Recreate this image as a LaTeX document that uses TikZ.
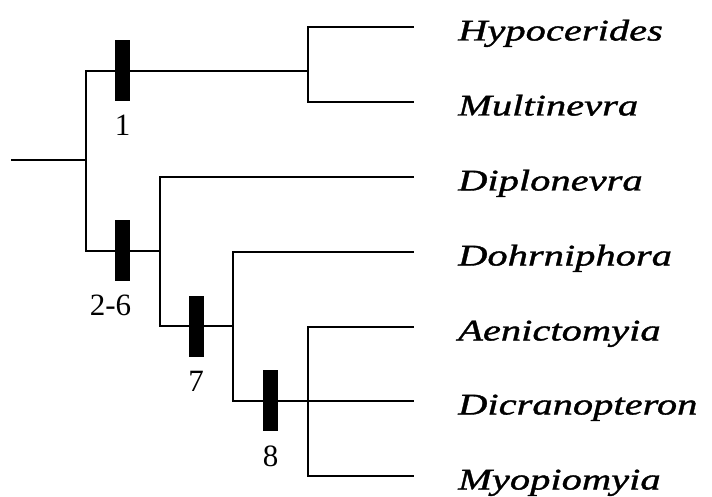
\documentclass[tikz,border=0pt]{standalone}
\usepackage{fontspec}
\setmainfont{Liberation Serif}
\newfontfamily\taxonfont[FakeStretch=1.35, FakeBold=1.2]{Liberation Serif}
\usetikzlibrary{positioning}

\tikzset{
  branch/.style={line width=1.1pt, line cap=rect},
  synbar/.style={fill=black, inner sep=0pt, minimum width=15pt, minimum height=61pt},
  charno/.style={font=\fontsize{31}{36}\selectfont, inner sep=3pt},
  taxon/.style={font=\taxonfont\itshape\fontsize{30}{36}\selectfont, anchor=west,
    text height=27pt, text depth=0pt, inner sep=0pt}
}

\begin{document}
\begin{tikzpicture}[x=1pt, y=-1pt]
  \useasboundingbox (0,0) rectangle (712,497);

  % internal nodes of the cladogram
  \coordinate (root) at (12,160);
  \coordinate (n0) at (86,160);
  \coordinate (n1) at (308,71);
  \coordinate (n2) at (160,251);
  \coordinate (n3) at (233,326);
  \coordinate (n4) at (308,401);

  % tips
  \coordinate (e1) at (413,27);
  \coordinate (e2) at (413,102);
  \coordinate (e3) at (413,177);
  \coordinate (e4) at (413,252);
  \coordinate (e5) at (413,327);
  \coordinate (e6) at (413,401);
  \coordinate (e7) at (413,476);

  % taxon names
  \node[taxon, right=45pt of e1] (hyp) {Hypocerides};
  \node[taxon, right=45pt of e2] (mul) {Multinevra};
  \node[taxon, right=45pt of e3] (dip) {Diplonevra};
  \node[taxon, right=45pt of e4] (doh) {Dohrniphora};
  \node[taxon, right=45pt of e5] (aen) {Aenictomyia};
  \node[taxon, right=45pt of e6] (dic) {Dicranopteron};
  \node[taxon, right=45pt of e7] (myo) {Myopiomyia};

  % branches
  \draw[branch] (root) -- (n0);
  \draw[branch] (n0) |- (n1);
  \draw[branch] (n0) |- (n2);
  \draw[branch] (n1) |- (e1);
  \draw[branch] (n1) |- (e2);
  \draw[branch] (n2) |- (e3);
  \draw[branch] (n2) |- (n3);
  \draw[branch] (n3) |- (e4);
  \draw[branch] (n3) |- (n4);
  \draw[branch] (n4) |- (e5);
  \draw[branch] (n4) -- (e6);
  \draw[branch] (n4) |- (e7);

  % synapomorphy bars
  \node[synbar] (b1) at (122.5,70.5) {};
  \node[synbar] (b2) at (122.5,250.5) {};
  \node[synbar] (b7) at (196,326) {};
  \node[synbar] (b8) at (270.5,400.5) {};

  \node[charno, below=11pt of b1] (c1) {1};
  \node[charno, below=11pt of b2, xshift=-12pt] (c2) {2-6};
  \node[charno, below=11pt of b7] (c7) {7};
  \node[charno, below=11pt of b8] (c8) {8};
\end{tikzpicture}
\end{document}
